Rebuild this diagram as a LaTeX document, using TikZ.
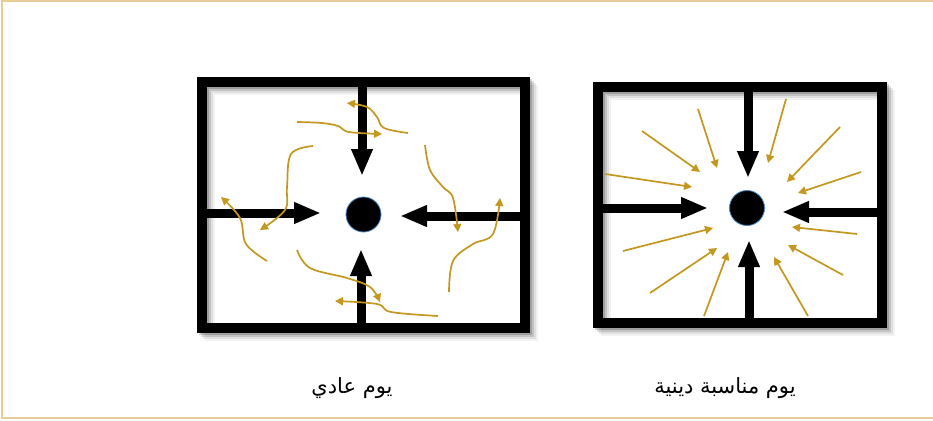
\documentclass[tikz,border=0pt]{standalone}
\usepackage{fontspec}
\newfontfamily\arabicfont[Script=Arabic]{DejaVu Sans}
\TeXXeTstate=1
\usetikzlibrary{arrows.meta}
\definecolor{gold}{RGB}{196,152,30}
\definecolor{edge}{RGB}{232,206,150}
\definecolor{ring}{RGB}{70,135,195}
\tikzset{
  frame/.style={line width=10pt, line join=miter},
  bigarrow/.style={line width=9pt, -{Triangle[length=27pt,width=20pt]}},
  flow/.style={gold, line width=1.7pt, -{Triangle[length=8pt,width=8pt]}},
  dot/.style={circle, fill=black, draw=ring, line width=0.8pt, minimum size=35pt, inner sep=0pt},
  daytext/.style={font=\arabicfont\fontsize{21}{25}\selectfont, text=black}
}
\begin{document}
\begin{tikzpicture}[x=1pt,y=-1pt]
\useasboundingbox (0,0) rectangle (933,420);
\fill[white] (0,0) rectangle (933,420);
\draw[edge, line width=1.5pt] (933,1) -- (2,1) -- (2,418) -- (933,418);

% shadows
\foreach \o/\op in {2/0.18,4/0.12,6/0.08,8/0.05}{
  \draw[black, opacity=\op, line width=10pt] (202+\o,82+\o) rectangle (525+\o,328+\o);
  \draw[black, opacity=\op, line width=10pt] (598+\o,87+\o) rectangle (882+\o,323+\o);
}

% ===== left room (ordinary day) =====
\draw[frame] (202,82) rectangle (525,328);
\coordinate (LT) at (362,82);  \coordinate (LTt) at (362,176);
\coordinate (LB) at (361,328); \coordinate (LBt) at (361,249);
\coordinate (LL) at (202,213); \coordinate (LLt) at (321,213);
\coordinate (LR) at (525,216); \coordinate (LRt) at (400,216);
\draw[bigarrow] (LT) -- (LTt);
\draw[bigarrow] (LB) -- (LBt);
\draw[bigarrow] (LL) -- (LLt);
\draw[bigarrow] (LR) -- (LRt);
\node[dot] (LC) at (363.5,214.5) {};

\draw[flow] plot[smooth, tension=0.6] coordinates {(297,122) (322,123) (338,126) (349,132) (382,134)};
\draw[flow] plot[smooth, tension=0.6] coordinates {(408,133) (384,128) (377,117) (367,107) (347,103)};
\draw[flow] plot[smooth, tension=0.6] coordinates {(425,145) (430,170) (443,187) (453,198) (458,232)};
\draw[flow] plot[smooth, tension=0.6] coordinates {(449,292) (453,261) (473,244) (493,234) (500,198)};
\draw[flow] plot[smooth, tension=0.6] coordinates {(297,250) (310,268) (347,278) (370,287) (380,302)};
\draw[flow] plot[smooth, tension=0.6] coordinates {(438,316) (391,312) (377,304) (335,301)};
\draw[flow] plot[smooth, tension=0.6] coordinates {(313,146) (291,154) (287,187) (285,210) (260,230)};
\draw[flow] plot[smooth, tension=0.6] coordinates {(267,261) (246,244) (240,218) (221,197)};

% ===== right room (religious occasion) =====
\draw[frame] (598,87) rectangle (882,323);
\coordinate (RT) at (748,87);  \coordinate (RTt) at (748,178);
\coordinate (RB) at (749,323); \coordinate (RBt) at (749,240);
\coordinate (RL) at (598,208); \coordinate (RLt) at (708,208);
\coordinate (RR) at (882,212); \coordinate (RRt) at (782,212);
\draw[bigarrow] (RT) -- (RTt);
\draw[bigarrow] (RB) -- (RBt);
\draw[bigarrow] (RL) -- (RLt);
\draw[bigarrow] (RR) -- (RRt);
\node[dot] (RC) at (747,208) {};

\foreach \a/\b in {
  {(642,131)}/{(700,172)}, {(698,109)}/{(717,168)}, {(786,99)}/{(768,163)},
  {(840,127)}/{(787,182)}, {(861,172)}/{(798,193)}, {(605,174)}/{(692,187)},
  {(623,251)}/{(713,228)}, {(650,293)}/{(717,248)}, {(704,316)}/{(728,252)},
  {(808,316)}/{(774,257)}, {(843,275)}/{(788,245)}, {(857,234)}/{(792,227)}}
  {\draw[flow] \a -- \b;}

\node[daytext] (l1) at (352,388) {\beginR يوم عادي\endR};
\node[daytext] (l2) at (725,388) {\beginR يوم مناسبة دينية\endR};
\end{tikzpicture}
\end{document}
